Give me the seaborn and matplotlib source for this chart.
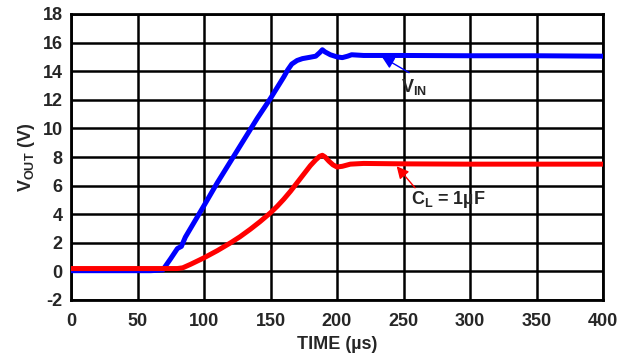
import pandas as pd
import matplotlib
matplotlib.use("Agg")
import matplotlib.pyplot as plt
import seaborn as sns

# V_IN trace (blue)
vin_time = [0, 10, 20, 30, 40, 50, 60, 69, 75, 80, 83, 86, 100, 110, 120, 130, 140,
            150, 160, 163, 166, 170, 174, 180, 184, 187, 189, 191, 195, 200, 204, 208,
            211, 220, 250, 300, 350, 400]
vin_volts = [0.05, 0.05, 0.05, 0.05, 0.05, 0.05, 0.05, 0.1, 0.9, 1.6, 1.75, 2.4, 4.6, 6.2,
             7.7, 9.2, 10.7, 12.1, 13.6, 14.1, 14.5, 14.75, 14.88, 14.98, 15.05, 15.3,
             15.5, 15.35, 15.15, 15.0, 14.95, 15.05, 15.15, 15.1, 15.1, 15.08, 15.08, 15.05]

# C_L = 1uF output trace (red)
cl_time = [0, 10, 20, 30, 40, 50, 60, 70, 80, 84, 90, 100, 110, 120, 127, 135, 142, 150,
           155, 160, 165, 170, 175, 180, 184, 187, 189, 191, 194, 197, 200, 204, 210, 220,
           250, 300, 350, 400]
cl_volts = [0.2, 0.2, 0.2, 0.2, 0.2, 0.2, 0.2, 0.2, 0.2, 0.25, 0.5, 0.95, 1.45, 2.0, 2.42,
            2.96, 3.47, 4.1, 4.55, 5.05, 5.6, 6.2, 6.8, 7.4, 7.8, 8.05, 8.12, 8.0, 7.7,
            7.45, 7.3, 7.35, 7.5, 7.55, 7.52, 7.5, 7.5, 7.5]

x_ticks = [0, 50, 100, 150, 200, 250, 300, 350, 400]
y_ticks = [-2, 0, 2, 4, 6, 8, 10, 12, 14, 16, 18]

sns.set_style("white")
plt.rcParams["font.family"] = ["Liberation Sans", "DejaVu Sans"]
plt.rcParams["font.weight"] = "bold"
plt.rcParams["axes.unicode_minus"] = False
plt.rcParams["mathtext.fontset"] = "custom"
plt.rcParams["mathtext.rm"] = "Liberation Sans:bold"
plt.rcParams["mathtext.it"] = "Liberation Sans:bold"
plt.rcParams["mathtext.bf"] = "Liberation Sans:bold"

vin = pd.DataFrame({"time": vin_time, "volts": vin_volts})
cl = pd.DataFrame({"time": cl_time, "volts": cl_volts})

fig = plt.figure(figsize=(6.36, 3.6), dpi=100)
ax = fig.add_axes([71 / 636, 60 / 360, 532 / 636, 286 / 360])

sns.lineplot(data=vin, x="time", y="volts", color="#0000ff", lw=3.6, ax=ax, zorder=3,
             solid_joinstyle="round", solid_capstyle="round")
sns.lineplot(data=cl, x="time", y="volts", color="#ff0000", lw=3.6, ax=ax, zorder=4,
             solid_joinstyle="round", solid_capstyle="round")

ax.set_xlim(0, 400)
ax.set_ylim(-2, 18)
ax.set_xticks(x_ticks)
ax.set_yticks(y_ticks)
ax.tick_params(axis="x", length=0, labelsize=13, pad=9)
ax.tick_params(axis="y", length=0, labelsize=13, pad=6)
for lab in ax.get_xticklabels() + ax.get_yticklabels():
    lab.set_fontweight("bold")
ax.grid(True, color="black", lw=1.8)
for s in ax.spines.values():
    s.set_color("black")
    s.set_linewidth(2)

ax.set_xlabel("TIME (µs)", fontsize=13, fontweight="bold", labelpad=5)
ax.set_ylabel(r"V$_{OUT}$ (V)", fontsize=13, fontweight="bold", labelpad=4)

ax.annotate("", xy=(232, 15.1), xytext=(256, 13.8),
            arrowprops=dict(arrowstyle="-|>", color="blue", lw=1, mutation_scale=18))
ax.text(248, 12.9, r"V$_{IN}$", fontsize=13, fontweight="bold", va="center", ha="left")

ax.annotate("", xy=(243.5, 7.5), xytext=(260, 5.7),
            arrowprops=dict(arrowstyle="-|>", color="red", lw=1, mutation_scale=18))
ax.text(256, 5.0, r"C$_L$ = 1µF", fontsize=13, fontweight="bold", va="center", ha="left")

fig.savefig("out.png", dpi=100)
